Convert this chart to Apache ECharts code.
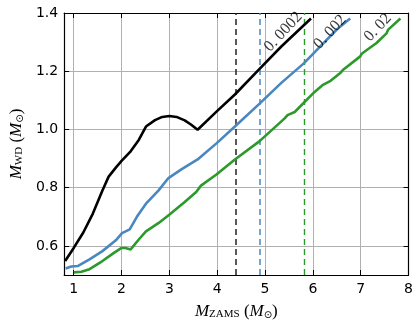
<!DOCTYPE html>
<html>
<head>
<meta charset="utf-8">
<script src="https://cdn.jsdelivr.net/npm/echarts@6/dist/echarts.min.js"></script>
<style>
  html, body { margin: 0; padding: 0; background: #fff; }
  #chart { width: 416px; height: 325px; }
</style>
</head>
<body>
<div id="chart"></div>
<script>
// Z = 0.0002 (black)
var xBlack = [0.82, 1.0, 1.2, 1.4, 1.6, 1.73, 1.88, 2.0, 2.19, 2.36, 2.51, 2.7, 2.85, 3.0, 3.15, 3.32, 3.45, 3.59, 3.99, 4.37, 4.88, 5.34, 5.96];
var yBlack = [0.548, 0.593, 0.646, 0.711, 0.79, 0.838, 0.869, 0.892, 0.925, 0.964, 1.01, 1.032, 1.043, 1.046, 1.043, 1.031, 1.017, 0.999, 1.062, 1.12, 1.207, 1.285, 1.381];
// Z = 0.002 (blue)
var xBlue = [0.83, 0.95, 1.09, 1.33, 1.6, 1.88, 2.01, 2.17, 2.32, 2.51, 2.77, 2.98, 3.25, 3.59, 3.99, 4.37, 4.88, 5.34, 5.81, 6.51, 6.78];
var yBlue = [0.522, 0.529, 0.531, 0.554, 0.582, 0.619, 0.644, 0.657, 0.7, 0.745, 0.79, 0.833, 0.863, 0.897, 0.953, 1.01, 1.088, 1.16, 1.227, 1.345, 1.381];
// Z = 0.02 (green)
var xGreen = [1.0, 1.16, 1.33, 1.6, 1.84, 2.0, 2.08, 2.19, 2.36, 2.51, 2.77, 3.01, 3.32, 3.56, 3.66, 3.99, 4.37, 4.88, 5.41, 5.47, 5.5, 5.62, 6.03, 6.2, 6.23, 6.37, 6.58, 6.62, 6.99, 7.02, 7.33, 7.54, 7.57, 7.83];
var yGreen = [0.509, 0.511, 0.52, 0.548, 0.576, 0.593, 0.593, 0.588, 0.622, 0.65, 0.678, 0.709, 0.751, 0.785, 0.807, 0.846, 0.897, 0.959, 1.038, 1.049, 1.045, 1.06, 1.128, 1.152, 1.149, 1.167, 1.195, 1.203, 1.251, 1.26, 1.297, 1.33, 1.342, 1.381];

// transition masses (dashed verticals)
var cutBlack = 4.38, cutBlue = 4.88, cutGreen = 5.81;

// curve labels
var labelText = ['0. 0002', '0. 002', '0. 02'];
var labelX = [5.38, 6.36, 7.36];
var labelY = [1.335, 1.335, 1.35];

var cBlack = '#000000', cBlue = '#4a87c0', cGreen = '#2b9a2b';

function pairs(xs, ys) {
  return xs.map(function (x, i) { return [x, ys[i]]; });
}

function curve(name, xs, ys, color, cut, cutWidth) {
  return {
    name: name,
    type: 'line',
    data: pairs(xs, ys),
    showSymbol: false,
    symbol: 'none',
    animation: false,
    lineStyle: { color: color, width: 2.6 },
    z: 5,
    markLine: {
      silent: true,
      symbol: 'none',
      animation: false,
      label: { show: false },
      lineStyle: { color: color === cBlack ? '#222' : color, width: cutWidth, type: [6, 4], opacity: 1 },
      data: [{ xAxis: cut }]
    }
  };
}

var chart = echarts.init(document.getElementById('chart'));

var mathRich = {
  m: { fontFamily: 'Liberation Serif', fontStyle: 'italic', fontSize: 17, color: '#000', verticalAlign: 'bottom', lineHeight: 20 },
  s: { fontFamily: 'Liberation Serif', fontSize: 11, color: '#000', verticalAlign: 'bottom', lineHeight: 14 },
  t: { fontFamily: 'Liberation Serif', fontSize: 17, color: '#000', verticalAlign: 'bottom', lineHeight: 20 },
  o: { fontFamily: 'DejaVu Sans', fontSize: 10, color: '#000', verticalAlign: 'bottom', lineHeight: 14 }
};

var tickLabel = { color: '#000', fontFamily: 'DejaVu Sans', fontSize: 14 };

chart.setOption({
  backgroundColor: '#fff',
  animation: false,
  grid: { left: 59, top: 13, right: 7, bottom: 46 },
  xAxis: [{
    type: 'value',
    min: 0.8,
    max: 8,
    splitNumber: 7,
    minInterval: 1,
    maxInterval: 1,
    name: '{m|M}{s|ZAMS}{t| (}{m|M}{o|⊙}{t|)}',
    nameLocation: 'middle',
    nameGap: 25,
    nameTextStyle: { rich: mathRich },
    axisLine: { show: true, onZero: false, lineStyle: { color: '#000', width: 1.2 } },
    axisTick: { show: true, inside: true, length: 5, lineStyle: { color: '#000' } },
    axisLabel: Object.assign({ showMinLabel: false, margin: 7 }, tickLabel),
    splitLine: { show: true, lineStyle: { color: '#b0b0b0', width: 1 } }
  }, {
    type: 'value',
    position: 'top',
    min: 0.8,
    max: 8,
    splitNumber: 7,
    minInterval: 1,
    maxInterval: 1,
    axisLine: { show: true, onZero: false, lineStyle: { color: '#000', width: 1.2 } },
    axisTick: { show: true, inside: true, length: 5, lineStyle: { color: '#000' } },
    axisLabel: { show: false },
    splitLine: { show: false }
  }],
  yAxis: [{
    type: 'value',
    min: 0.5,
    max: 1.4,
    minInterval: 0.2,
    maxInterval: 0.2,
    name: '{m|M}{s|WD}{t| (}{m|M}{o|⊙}{t|)}',
    nameLocation: 'middle',
    nameGap: 38,
    nameTextStyle: { rich: mathRich },
    axisLine: { show: true, onZero: false, lineStyle: { color: '#000', width: 1.2 } },
    axisTick: { show: true, inside: true, length: 5, lineStyle: { color: '#000' } },
    axisLabel: Object.assign({
      showMinLabel: false,
      margin: 6,
      formatter: function (v) { return v.toFixed(1); }
    }, tickLabel),
    splitLine: { show: true, lineStyle: { color: '#b0b0b0', width: 1 } }
  }, {
    type: 'value',
    position: 'right',
    min: 0.5,
    max: 1.4,
    minInterval: 0.2,
    maxInterval: 0.2,
    axisLine: { show: true, onZero: false, lineStyle: { color: '#000', width: 1.2 } },
    axisTick: { show: true, inside: true, length: 5, lineStyle: { color: '#000' } },
    axisLabel: { show: false },
    splitLine: { show: false }
  }],
  series: [
    curve('0.0002', xBlack, yBlack, cBlack, cutBlack, 1.5),
    curve('0.002', xBlue, yBlue, cBlue, cutBlue, 1.5),
    curve('0.02', xGreen, yGreen, cGreen, cutGreen, 1.4),
    {
      name: 'labels',
      type: 'scatter',
      silent: true,
      animation: false,
      symbolSize: 0,
      z: 10,
      data: labelX.map(function (x, i) { return { value: [x, labelY[i]], name: labelText[i] }; }),
      label: {
        show: true,
        position: 'inside',
        formatter: function (p) { return p.name; },
        rotate: 47,
        color: '#000',
        textBorderWidth: 0,
        textBorderColor: 'transparent',
        fontFamily: 'Liberation Serif',
        fontSize: 16
      }
    }
  ]
});
</script>
</body>
</html>
